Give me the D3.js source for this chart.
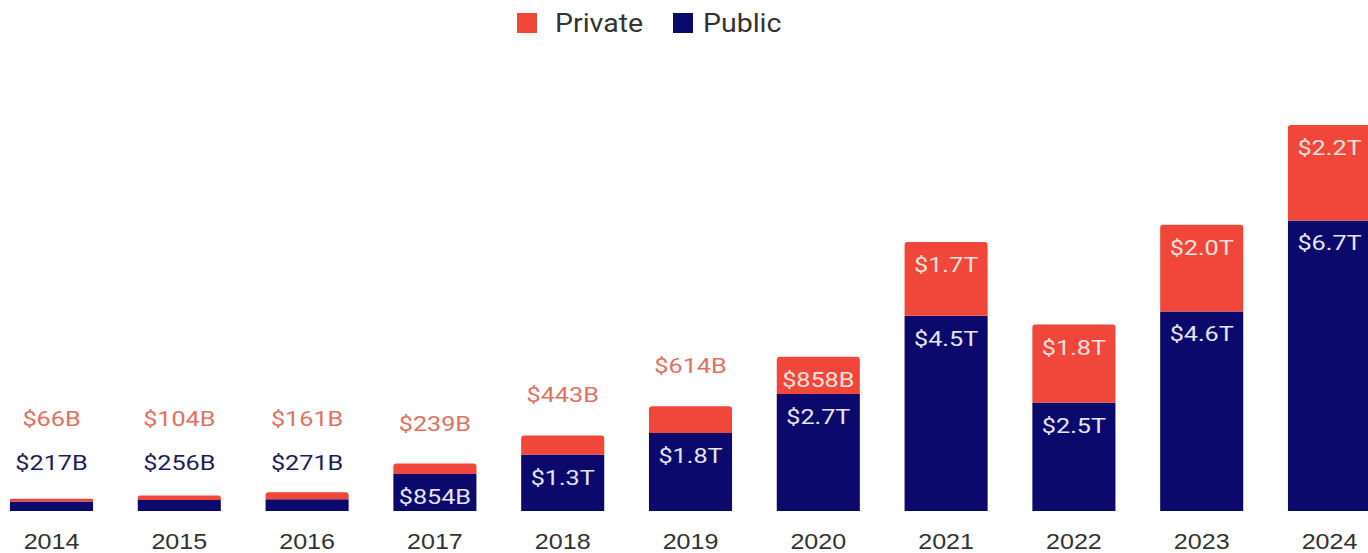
<!DOCTYPE html>
<html>
<head>
<meta charset="utf-8">
<script src="https://cdn.jsdelivr.net/npm/d3@7"></script>
<style>
  html, body { margin: 0; padding: 0; background: #fff; }
  svg { display: block; font-family: Roboto, "Noto Sans", Arial, sans-serif; }
</style>
</head>
<body>
<svg id="chart" width="1368" height="553"></svg>
<script>
// Funding volume by year, in trillions of dollars
const years = ["2014", "2015", "2016", "2017", "2018", "2019", "2020", "2021", "2022", "2023", "2024"];
const publicValues  = [0.217, 0.256, 0.271, 0.854, 1.3, 1.8, 2.7, 4.5, 2.5, 4.6, 6.7];
const privateValues = [0.066, 0.104, 0.161, 0.239, 0.443, 0.614, 0.858, 1.7, 1.8, 2.0, 2.2];
const publicLabels  = ["$217B", "$256B", "$271B", "$854B", "$1.3T", "$1.8T", "$2.7T", "$4.5T", "$2.5T", "$4.6T", "$6.7T"];
const privateLabels = ["$66B", "$104B", "$161B", "$239B", "$443B", "$614B", "$858B", "$1.7T", "$1.8T", "$2.0T", "$2.2T"];
const seriesNames = ["Private", "Public"];

const colors = { Public: "#0b0a6c", Private: "#f1473a" };
const outsideText = { Public: "#1d1c5c", Private: "#e2705f" };
const insideText = { Public: "#e6e4f6", Private: "#fde3de" };
const STRETCH = 1.2;

const svg = d3.select("#chart");
const baseY = 511;
const step = 127.8;
const x0 = 51.5 - step / 2;

const x = d3.scaleBand()
  .domain(years)
  .range([x0, x0 + step * years.length])
  .paddingInner(0.35)
  .paddingOuter(0.175);

const totals = years.map((_, i) => publicValues[i] + privateValues[i]);
const y = d3.scaleLinear()
  .domain([0, d3.max(totals)])
  .range([baseY, 125]);

const rows = years.map((yr, i) => ({
  year: yr,
  Public: publicValues[i],
  Private: privateValues[i],
  labels: { Public: publicLabels[i], Private: privateLabels[i] }
}));

const stack = d3.stack().keys(["Public", "Private"]);
const layers = stack(rows);

// Bars; the upper segment gets slightly rounded top corners
const g = svg.append("g");
layers.forEach(layer => {
  const key = layer.key;
  g.selectAll(null)
    .data(layer)
    .join("path")
    .attr("fill", colors[key])
    .attr("d", d => {
      const xl = x(d.data.year), w = x.bandwidth();
      const top = y(d[1]), bot = y(d[0]);
      const r = key === "Private" ? Math.min(3, (bot - top) / 2) : 0;
      return `M${xl},${bot}V${top + r}Q${xl},${top} ${xl + r},${top}H${xl + w - r}Q${xl + w},${top} ${xl + w},${top + r}V${bot}Z`;
    });
});

// Horizontally widened text helper
function label(parent, cx, baseline, text, size, fill, stretch) {
  parent.append("g")
    .attr("transform", `translate(${cx},${baseline}) scale(${stretch || STRETCH},1)`)
    .append("text")
    .attr("text-anchor", "middle")
    .attr("font-size", size)
    .attr("fill", fill)
    .text(text);
}

// Value labels: inside a segment when it is tall enough, otherwise stacked above the bar
const labelLayer = svg.append("g");
rows.forEach((row, i) => {
  const cx = x(row.year) + x.bandwidth() / 2;
  const barTop = y(totals[i]);
  // very short bars keep their labels at a common minimum height
  let outsideBase = barTop > baseY - 25 ? baseY - 41 : barTop - 33;
  const segs = [
    { key: "Public", y0: 0, y1: row.Public },
    { key: "Private", y0: row.Public, y1: row.Public + row.Private }
  ];
  segs.forEach(s => {
    const top = y(s.y1), bot = y(s.y0);
    if (bot - top >= 32) {
      label(labelLayer, cx, top + 30, row.labels[s.key], 21, insideText[s.key]);
    } else {
      label(labelLayer, cx, outsideBase, row.labels[s.key], 21, outsideText[s.key]);
      outsideBase -= 44;
    }
  });
});

// Category axis
const axis = svg.append("g")
  .attr("transform", `translate(0,${baseY})`)
  .call(d3.axisBottom(x).tickSize(0).tickPadding(0));
axis.select(".domain").remove();
axis.selectAll(".tick text").remove();
axis.selectAll(".tick").each(function(d) {
  label(d3.select(this), 0, 38, d, 22, "#333333", 1.14);
});

// Legend
const legend = svg.append("g");
const legendItems = [
  { name: seriesNames[0], x: 517, tx: 555 },
  { name: seriesNames[1], x: 673, tx: 703 }
];
legendItems.forEach(it => {
  legend.append("rect")
    .attr("x", it.x).attr("y", 13)
    .attr("width", 20).attr("height", 20)
    .attr("fill", colors[it.name]);
  legend.append("g")
    .attr("transform", `translate(${it.tx},32) scale(1.14,1)`)
    .append("text")
    .attr("font-size", 25)
    .attr("fill", "#333333")
    .text(it.name);
});
</script>
</body>
</html>
